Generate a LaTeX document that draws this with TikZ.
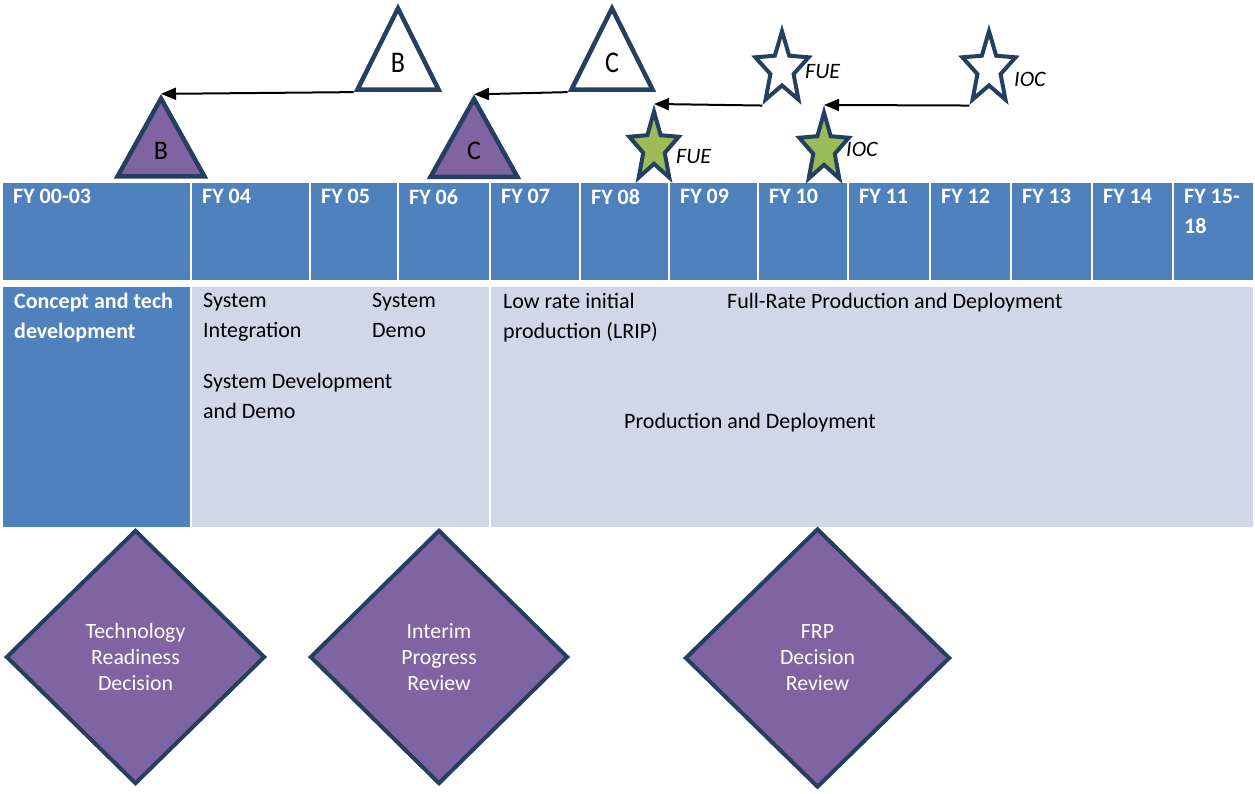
\documentclass[tikz,border=0pt]{standalone}
\usepackage{fontspec}
\setmainfont{Carlito}
\usetikzlibrary{shapes.geometric,arrows.meta,positioning}

\definecolor{hdrblue}{HTML}{4F81BD}
\definecolor{rowgray}{HTML}{D0D8E8}
\definecolor{msviolet}{HTML}{8064A2}
\definecolor{msgreen}{HTML}{9BBB59}
\definecolor{msedge}{HTML}{243F60}

\tikzset{
  cell/.style={rectangle, draw=white, line width=2pt, anchor=north west, inner sep=0pt, outer sep=0pt},
  hdr/.style={cell, fill=hdrblue, minimum height=99},
  phase/.style={cell, fill=rowgray, minimum height=242},
  yeartext/.style={anchor=north west, inner sep=0pt, align=left, text=white, font=\fontsize{22}{30}\selectfont\bfseries},
  phasetext/.style={anchor=north west, inner sep=0pt, align=left, font=\fontsize{22}{30}\selectfont},
  review/.style={diamond, draw=msedge, line width=4pt, fill=msviolet, text=white, align=center, inner sep=0pt, font=\fontsize{21.8}{26}\selectfont},
  block/.style={regular polygon, regular polygon sides=3, draw=msedge, line width=4.5pt, inner sep=0pt, font=\fontsize{26}{30}\selectfont},
  planned/.style={block, fill=white, minimum size=93.6, yscale=1.155},
  actual/.style={block, fill=msviolet, minimum size=100.4, yscale=1.035},
  event/.style={star, star points=5, star point ratio=2.3, draw=msedge, line width=4pt, inner sep=0pt},
  goal/.style={event, fill=white, minimum size=56, yscale=1.35},
  done/.style={event, fill=msgreen, minimum size=52, yscale=1.4},
  tag/.style={anchor=west, inner sep=0pt, font=\fontsize{22}{26}\selectfont\itshape},
  slip/.style={-{Triangle[length=15pt,width=12pt]}, line width=2pt},
}

\begin{document}
\begin{tikzpicture}[x=1pt,y=-1pt]
  \useasboundingbox (0,0) rectangle (1255,794);

  % Fiscal years
  \foreach \i/\xl/\xr/\yr in {1/2/191/FY 00-03, 2/191/310/FY 04, 3/310/398/FY 05,
      4/398/490/FY 06, 5/490/580/FY 07, 6/580/669/FY 08, 7/669/758/FY 09,
      8/758/848/FY 10, 9/848/930/FY 11, 10/930/1011/FY 12, 11/1011/1092/FY 13,
      12/1092/1173/FY 14, 13/1173/1254/{FY 15-\\18}} {
    \node[hdr, minimum width=\xr-\xl] (hd\i) at (\xl,182) {};
    \node[yeartext] (yr\i) at ([xshift=11pt,yshift=-7pt]hd\i.north west) {\yr};
  }

  % Phases
  \node[phase, fill=hdrblue, minimum width=189] (ph1) at (2,286) {};
  \node[phase, minimum width=299] (ph2) at (191,286) {};
  \node[phase, minimum width=764] (ph3) at (490,286) {};

  \node[yeartext] (cpt) at ([xshift=12pt,yshift=-7pt]ph1.north west) {Concept and tech\\development};
  \node[phasetext] (sysint) at ([xshift=12pt,yshift=-7pt]ph2.north west) {System\\Integration};
  \node[phasetext] (sysdemo) at (372,293) {System\\Demo};
  \node[phasetext] (sdd) at (203,373) {System Development\\and Demo};
  \node[phasetext] (lrip) at ([xshift=13pt,yshift=-7pt]ph3.north west) {Low rate initial\\production (LRIP)};
  \node[phasetext] (frp) at (727,293) {Full-Rate Production and Deployment};
  \node[phasetext] (pd) at (624,413) {Production and Deployment};

  % Reviews
  \node[review, minimum width=259, minimum height=254] (trd) at (135.5,657) {Technology\\Readiness\\Decision};
  \node[review, minimum width=258, minimum height=254] (ipr) at (439,657) {Interim\\Progress\\Review};
  \node[review, minimum width=265, minimum height=259] (frpdr) at (817.5,658) {FRP\\Decision\\Review};

  % Milestones
  \node[actual] (ms_b) at (161,150.5) {B};
  \node[planned] (plan_b) at (398,62.5) {B};
  \node[actual] (ms_c) at (474,151) {C};
  \node[planned] (plan_c) at (612,62.5) {C};

  \node[done] (fue) at (654,148) {};
  \node[goal] (fue_plan) at (782,69) {};
  \node[done] (ioc) at (824,149) {};
  \node[goal] (ioc_plan) at (989,69) {};

  \node[tag] (fue_lbl) at (676,157) {FUE};
  \node[tag] (fue_plan_lbl) at (805,72) {FUE};
  \node[tag] (ioc_lbl) at (846,149) {IOC};
  \node[tag] (ioc_plan_lbl) at (1014,79) {IOC};

  % Slips
  \draw[slip] (plan_b.corner 2) -- (ms_b.corner 1);
  \draw[slip] (plan_c.corner 2) -- (ms_c.corner 1);
  \draw[slip] (fue_plan.outer point 3) -- (fue.outer point 1);
  \draw[slip] (ioc_plan.outer point 3) -- (ioc.outer point 1);
\end{tikzpicture}
\end{document}
